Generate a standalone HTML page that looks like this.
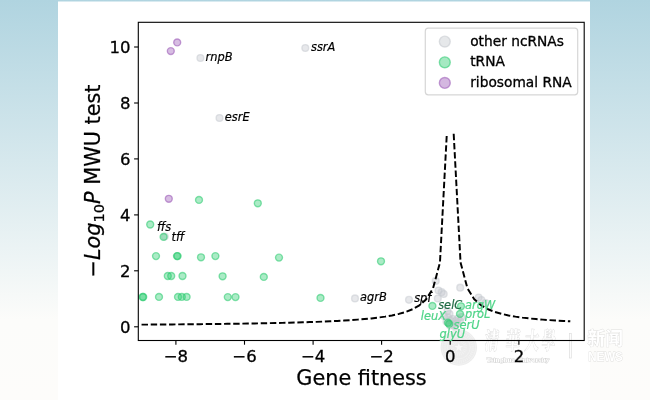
<!DOCTYPE html>
<html lang="en"><head><meta charset="utf-8"><title>Gene fitness volcano plot</title>
<style>
html,body{margin:0;padding:0;background:#fdfcfa;}
body{width:650px;height:400px;overflow:hidden;position:relative;font-family:"DejaVu Sans","Liberation Sans",sans-serif;}
svg text{font-family:"DejaVu Sans","Liberation Sans",sans-serif;}
.tk{font-size:16.5px;fill:#000;stroke:#000;stroke-width:0.3px;}
.lg{font-size:13.75px;fill:#000;stroke:#000;stroke-width:0.3px;}
.ax{font-size:20.8px;fill:#000;stroke:#000;stroke-width:0.25px;}
.gl{font-size:11.4px;font-style:italic;stroke-width:0.2px;}
</style></head><body>
<svg width="650" height="400" viewBox="0 0 650 400" style="position:absolute;left:0;top:0"><defs><linearGradient id="bg" x1="0" y1="0" x2="0" y2="1"><stop offset="0" stop-color="#b0d4e0"/><stop offset="0.8" stop-color="#fcfcfa"/><stop offset="1" stop-color="#fdfcfa"/></linearGradient></defs><rect width="650" height="400" fill="url(#bg)"/><rect x="58" y="1.5" width="532" height="399" fill="#fff"/><g class="wm">
<circle cx="458.8" cy="347.5" r="18.2" fill="#000" fill-opacity="0.075"/>
<circle cx="458.8" cy="347.5" r="16.8" fill="none" stroke="#fff" stroke-opacity="0.4" stroke-width="0.7"/>
<circle cx="458.8" cy="347.5" r="11.4" fill="none" stroke="#fff" stroke-opacity="0.4" stroke-width="0.7"/>
<circle cx="458.8" cy="347.5" r="14.1" fill="none" stroke="#fff" stroke-opacity="0.28" stroke-width="2.8" stroke-dasharray="1.1 1.0"/>
<circle cx="458.8" cy="347.5" r="6.5" fill="none" stroke="#fff" stroke-opacity="0.3" stroke-width="3.5" stroke-dasharray="0.9 0.9"/>
<path d="M458.8 342.9 L459.9 346.1 L463.2 346.1 L460.5 348.1 L461.5 351.3 L458.8 349.3 L456.1 351.3 L457.1 348.1 L454.4 346.1 L457.7 346.1 Z" fill="#fff" fill-opacity="0.7"/>
<text transform="translate(0,348.8) scale(0.6,1) skewX(-8)" x="807.2 842.0 873.7 901.7" y="0" font-size="23.5" font-weight="700" style="font-family:'Liberation Serif','Noto Serif CJK SC',serif" fill="#fff" stroke="#555" stroke-opacity="0.2" stroke-width="1.1" paint-order="stroke">清華大學</text>
<text x="486.5" y="362.4" font-size="6.9" font-weight="700" style="font-family:'Liberation Serif',serif" fill="#fff" stroke="#555" stroke-opacity="0.25" stroke-width="0.8" paint-order="stroke" textLength="63" lengthAdjust="spacingAndGlyphs">Tsinghua University</text>
<rect x="569.5" y="333.6" width="1.8" height="24.4" fill="#fff" stroke="#555" stroke-opacity="0.2" stroke-width="0.7"/>
<text x="587.6" y="345.2" font-size="17.8" font-weight="700" style="font-family:'Liberation Sans','Noto Sans CJK SC',sans-serif" fill="#fff" stroke="#666" stroke-opacity="0.2" stroke-width="0.9" paint-order="stroke" textLength="35.4" lengthAdjust="spacingAndGlyphs">新闻</text>
<text x="588.3" y="360.7" font-size="13.4" font-weight="700" style="font-family:'Liberation Sans',sans-serif" fill="#fff" stroke="#666" stroke-opacity="0.2" stroke-width="0.9" paint-order="stroke" textLength="34.4" lengthAdjust="spacingAndGlyphs">NEWS</text>
</g><g><circle cx="200.4" cy="58.0" r="3.4" fill="#c6c9cf" fill-opacity="0.42" stroke="#c6c9cf" stroke-opacity="0.5" stroke-width="1.39"/><circle cx="305.3" cy="48.0" r="3.4" fill="#c6c9cf" fill-opacity="0.42" stroke="#c6c9cf" stroke-opacity="0.5" stroke-width="1.39"/><circle cx="219.5" cy="118.0" r="3.4" fill="#c6c9cf" fill-opacity="0.42" stroke="#c6c9cf" stroke-opacity="0.5" stroke-width="1.39"/><circle cx="164.8" cy="236.6" r="3.4" fill="#c6c9cf" fill-opacity="0.42" stroke="#c6c9cf" stroke-opacity="0.5" stroke-width="1.39"/><circle cx="355.0" cy="298.4" r="3.4" fill="#c6c9cf" fill-opacity="0.42" stroke="#c6c9cf" stroke-opacity="0.5" stroke-width="1.39"/><circle cx="409.0" cy="299.8" r="3.4" fill="#c6c9cf" fill-opacity="0.42" stroke="#c6c9cf" stroke-opacity="0.5" stroke-width="1.39"/><circle cx="435.7" cy="280.9" r="3.4" fill="#c6c9cf" fill-opacity="0.42" stroke="#c6c9cf" stroke-opacity="0.5" stroke-width="1.39"/><circle cx="438.5" cy="290.5" r="3.4" fill="#c6c9cf" fill-opacity="0.42" stroke="#c6c9cf" stroke-opacity="0.5" stroke-width="1.39"/><circle cx="441.6" cy="292.2" r="3.4" fill="#c6c9cf" fill-opacity="0.42" stroke="#c6c9cf" stroke-opacity="0.5" stroke-width="1.39"/><circle cx="443.7" cy="294.0" r="3.4" fill="#c6c9cf" fill-opacity="0.42" stroke="#c6c9cf" stroke-opacity="0.5" stroke-width="1.39"/><circle cx="437.8" cy="298.5" r="3.4" fill="#c6c9cf" fill-opacity="0.42" stroke="#c6c9cf" stroke-opacity="0.5" stroke-width="1.39"/><circle cx="460.2" cy="287.7" r="3.4" fill="#c6c9cf" fill-opacity="0.42" stroke="#c6c9cf" stroke-opacity="0.5" stroke-width="1.39"/><circle cx="478.6" cy="297.5" r="3.4" fill="#c6c9cf" fill-opacity="0.42" stroke="#c6c9cf" stroke-opacity="0.5" stroke-width="1.39"/><circle cx="481.4" cy="300.0" r="3.4" fill="#c6c9cf" fill-opacity="0.42" stroke="#c6c9cf" stroke-opacity="0.5" stroke-width="1.39"/><circle cx="485.6" cy="303.0" r="3.4" fill="#c6c9cf" fill-opacity="0.42" stroke="#c6c9cf" stroke-opacity="0.5" stroke-width="1.39"/><circle cx="447.5" cy="311.0" r="3.4" fill="#c6c9cf" fill-opacity="0.42" stroke="#c6c9cf" stroke-opacity="0.5" stroke-width="1.39"/><circle cx="449.5" cy="314.0" r="3.4" fill="#c6c9cf" fill-opacity="0.42" stroke="#c6c9cf" stroke-opacity="0.5" stroke-width="1.39"/><circle cx="448.0" cy="317.5" r="3.4" fill="#c6c9cf" fill-opacity="0.42" stroke="#c6c9cf" stroke-opacity="0.5" stroke-width="1.39"/><circle cx="450.5" cy="320.5" r="3.4" fill="#c6c9cf" fill-opacity="0.42" stroke="#c6c9cf" stroke-opacity="0.5" stroke-width="1.39"/><circle cx="446.5" cy="321.5" r="3.4" fill="#c6c9cf" fill-opacity="0.42" stroke="#c6c9cf" stroke-opacity="0.5" stroke-width="1.39"/><circle cx="444.0" cy="316.0" r="3.4" fill="#c6c9cf" fill-opacity="0.42" stroke="#c6c9cf" stroke-opacity="0.5" stroke-width="1.39"/><circle cx="452.5" cy="319.0" r="3.4" fill="#c6c9cf" fill-opacity="0.42" stroke="#c6c9cf" stroke-opacity="0.5" stroke-width="1.39"/><circle cx="455.5" cy="321.0" r="3.4" fill="#c6c9cf" fill-opacity="0.42" stroke="#c6c9cf" stroke-opacity="0.5" stroke-width="1.39"/><circle cx="458.0" cy="318.5" r="3.4" fill="#c6c9cf" fill-opacity="0.42" stroke="#c6c9cf" stroke-opacity="0.5" stroke-width="1.39"/><circle cx="460.0" cy="321.0" r="3.4" fill="#c6c9cf" fill-opacity="0.42" stroke="#c6c9cf" stroke-opacity="0.5" stroke-width="1.39"/><circle cx="457.0" cy="323.5" r="3.4" fill="#c6c9cf" fill-opacity="0.42" stroke="#c6c9cf" stroke-opacity="0.5" stroke-width="1.39"/><circle cx="453.5" cy="324.0" r="3.4" fill="#c6c9cf" fill-opacity="0.42" stroke="#c6c9cf" stroke-opacity="0.5" stroke-width="1.39"/><circle cx="461.5" cy="317.0" r="3.4" fill="#c6c9cf" fill-opacity="0.42" stroke="#c6c9cf" stroke-opacity="0.5" stroke-width="1.39"/><circle cx="450.0" cy="325.5" r="3.4" fill="#c6c9cf" fill-opacity="0.42" stroke="#c6c9cf" stroke-opacity="0.5" stroke-width="1.39"/><circle cx="455.0" cy="326.5" r="3.4" fill="#c6c9cf" fill-opacity="0.42" stroke="#c6c9cf" stroke-opacity="0.5" stroke-width="1.39"/><circle cx="199.0" cy="199.9" r="3.47" fill="#2ecc71" fill-opacity="0.4" stroke="#2ecc71" stroke-opacity="0.58" stroke-width="1.39"/><circle cx="257.8" cy="203.3" r="3.47" fill="#2ecc71" fill-opacity="0.4" stroke="#2ecc71" stroke-opacity="0.58" stroke-width="1.39"/><circle cx="150.2" cy="224.5" r="3.47" fill="#2ecc71" fill-opacity="0.4" stroke="#2ecc71" stroke-opacity="0.58" stroke-width="1.39"/><circle cx="163.6" cy="236.9" r="3.47" fill="#2ecc71" fill-opacity="0.4" stroke="#2ecc71" stroke-opacity="0.58" stroke-width="1.39"/><circle cx="156.0" cy="256.1" r="3.47" fill="#2ecc71" fill-opacity="0.4" stroke="#2ecc71" stroke-opacity="0.58" stroke-width="1.39"/><circle cx="177.0" cy="256.1" r="3.47" fill="#2ecc71" fill-opacity="0.4" stroke="#2ecc71" stroke-opacity="0.58" stroke-width="1.39"/><circle cx="177.6" cy="256.1" r="3.47" fill="#2ecc71" fill-opacity="0.4" stroke="#2ecc71" stroke-opacity="0.58" stroke-width="1.39"/><circle cx="201.0" cy="257.3" r="3.47" fill="#2ecc71" fill-opacity="0.4" stroke="#2ecc71" stroke-opacity="0.58" stroke-width="1.39"/><circle cx="215.4" cy="256.1" r="3.47" fill="#2ecc71" fill-opacity="0.4" stroke="#2ecc71" stroke-opacity="0.58" stroke-width="1.39"/><circle cx="279.0" cy="257.6" r="3.47" fill="#2ecc71" fill-opacity="0.4" stroke="#2ecc71" stroke-opacity="0.58" stroke-width="1.39"/><circle cx="167.8" cy="276.0" r="3.47" fill="#2ecc71" fill-opacity="0.4" stroke="#2ecc71" stroke-opacity="0.58" stroke-width="1.39"/><circle cx="171.2" cy="276.0" r="3.47" fill="#2ecc71" fill-opacity="0.4" stroke="#2ecc71" stroke-opacity="0.58" stroke-width="1.39"/><circle cx="182.5" cy="276.0" r="3.47" fill="#2ecc71" fill-opacity="0.4" stroke="#2ecc71" stroke-opacity="0.58" stroke-width="1.39"/><circle cx="222.6" cy="276.3" r="3.47" fill="#2ecc71" fill-opacity="0.4" stroke="#2ecc71" stroke-opacity="0.58" stroke-width="1.39"/><circle cx="263.8" cy="276.9" r="3.47" fill="#2ecc71" fill-opacity="0.4" stroke="#2ecc71" stroke-opacity="0.58" stroke-width="1.39"/><circle cx="142.7" cy="297.0" r="3.47" fill="#2ecc71" fill-opacity="0.4" stroke="#2ecc71" stroke-opacity="0.58" stroke-width="1.39"/><circle cx="143.2" cy="297.0" r="3.47" fill="#2ecc71" fill-opacity="0.4" stroke="#2ecc71" stroke-opacity="0.58" stroke-width="1.39"/><circle cx="159.0" cy="296.9" r="3.47" fill="#2ecc71" fill-opacity="0.4" stroke="#2ecc71" stroke-opacity="0.58" stroke-width="1.39"/><circle cx="178.0" cy="296.9" r="3.47" fill="#2ecc71" fill-opacity="0.4" stroke="#2ecc71" stroke-opacity="0.58" stroke-width="1.39"/><circle cx="181.8" cy="296.9" r="3.47" fill="#2ecc71" fill-opacity="0.4" stroke="#2ecc71" stroke-opacity="0.58" stroke-width="1.39"/><circle cx="186.6" cy="296.9" r="3.47" fill="#2ecc71" fill-opacity="0.4" stroke="#2ecc71" stroke-opacity="0.58" stroke-width="1.39"/><circle cx="227.8" cy="297.1" r="3.47" fill="#2ecc71" fill-opacity="0.4" stroke="#2ecc71" stroke-opacity="0.58" stroke-width="1.39"/><circle cx="235.5" cy="297.1" r="3.47" fill="#2ecc71" fill-opacity="0.4" stroke="#2ecc71" stroke-opacity="0.58" stroke-width="1.39"/><circle cx="320.5" cy="297.9" r="3.47" fill="#2ecc71" fill-opacity="0.4" stroke="#2ecc71" stroke-opacity="0.58" stroke-width="1.39"/><circle cx="381.0" cy="261.3" r="3.47" fill="#2ecc71" fill-opacity="0.4" stroke="#2ecc71" stroke-opacity="0.58" stroke-width="1.39"/><circle cx="432.4" cy="305.9" r="3.47" fill="#2ecc71" fill-opacity="0.4" stroke="#2ecc71" stroke-opacity="0.58" stroke-width="1.39"/><circle cx="461.0" cy="306.3" r="3.47" fill="#2ecc71" fill-opacity="0.4" stroke="#2ecc71" stroke-opacity="0.58" stroke-width="1.39"/><circle cx="460.0" cy="313.9" r="3.47" fill="#2ecc71" fill-opacity="0.4" stroke="#2ecc71" stroke-opacity="0.58" stroke-width="1.39"/><circle cx="448.0" cy="322.7" r="3.47" fill="#2ecc71" fill-opacity="0.4" stroke="#2ecc71" stroke-opacity="0.58" stroke-width="1.39"/><circle cx="449.2" cy="323.9" r="3.47" fill="#2ecc71" fill-opacity="0.4" stroke="#2ecc71" stroke-opacity="0.58" stroke-width="1.39"/><circle cx="170.8" cy="51.1" r="3.47" fill="#9b59b6" fill-opacity="0.4" stroke="#9b59b6" stroke-opacity="0.58" stroke-width="1.39"/><circle cx="177.2" cy="42.4" r="3.47" fill="#9b59b6" fill-opacity="0.4" stroke="#9b59b6" stroke-opacity="0.58" stroke-width="1.39"/><circle cx="168.8" cy="198.8" r="3.47" fill="#9b59b6" fill-opacity="0.4" stroke="#9b59b6" stroke-opacity="0.58" stroke-width="1.39"/></g><path d="M141.55,324.65 L144.98,324.63 L151.84,324.58 L158.70,324.53 L165.56,324.47 L172.42,324.42 L179.28,324.36 L186.14,324.29 L193.00,324.23 L199.86,324.16 L206.72,324.08 L213.58,324.00 L220.44,323.92 L227.30,323.83 L234.16,323.74 L241.02,323.64 L247.88,323.53 L254.74,323.41 L261.60,323.29 L268.46,323.16 L275.32,323.01 L282.18,322.86 L289.04,322.69 L295.90,322.51 L302.76,322.31 L309.62,322.09 L316.48,321.85 L323.34,321.58 L330.20,321.28 L337.06,320.95 L343.92,320.57 L350.78,320.14 L357.64,319.65 L364.50,319.08 L371.36,318.41 L378.22,317.61 L385.08,316.64 L391.94,315.44 L398.80,313.93 L405.66,311.95 L412.52,309.25 L419.38,305.35 L426.24,299.22 L433.10,288.19 L439.96,262.45 L446.82,133.74" fill="none" stroke="#000" stroke-width="1.95" stroke-dasharray="6.43 2.737" stroke-linejoin="round"/><path d="M453.68,133.74 L460.54,262.45 L467.40,288.19 L474.26,299.22 L481.12,305.35 L487.98,309.25 L494.84,311.95 L501.70,313.93 L508.56,315.44 L515.42,316.64 L522.28,317.61 L529.14,318.41 L536.00,319.08 L542.86,319.65 L549.72,320.14 L556.58,320.57 L563.44,320.95 L570.30,321.28" fill="none" stroke="#000" stroke-width="1.95" stroke-dasharray="6.45 2.75" stroke-linejoin="round"/><rect x="138.3" y="22.3" width="445.90000000000003" height="318.2" fill="none" stroke="#000" stroke-width="1.1"/><line x1="175.9" y1="340.5" x2="175.9" y2="344.7" stroke="#000" stroke-width="1.1"/><text x="175.9" y="361.5" text-anchor="middle" class="tk">−8</text><line x1="244.5" y1="340.5" x2="244.5" y2="344.7" stroke="#000" stroke-width="1.1"/><text x="244.5" y="361.5" text-anchor="middle" class="tk">−6</text><line x1="313.1" y1="340.5" x2="313.1" y2="344.7" stroke="#000" stroke-width="1.1"/><text x="313.1" y="361.5" text-anchor="middle" class="tk">−4</text><line x1="381.6" y1="340.5" x2="381.6" y2="344.7" stroke="#000" stroke-width="1.1"/><text x="381.6" y="361.5" text-anchor="middle" class="tk">−2</text><line x1="450.2" y1="340.5" x2="450.2" y2="344.7" stroke="#000" stroke-width="1.1"/><text x="450.2" y="361.5" text-anchor="middle" class="tk">0</text><line x1="518.9" y1="340.5" x2="518.9" y2="344.7" stroke="#000" stroke-width="1.1"/><text x="518.9" y="361.5" text-anchor="middle" class="tk">2</text><line x1="134.10000000000002" y1="326.8" x2="138.3" y2="326.8" stroke="#000" stroke-width="1.1"/><text x="130.60000000000002" y="333.0" text-anchor="end" class="tk">0</text><line x1="134.10000000000002" y1="270.8" x2="138.3" y2="270.8" stroke="#000" stroke-width="1.1"/><text x="130.60000000000002" y="277.0" text-anchor="end" class="tk">2</text><line x1="134.10000000000002" y1="214.9" x2="138.3" y2="214.9" stroke="#000" stroke-width="1.1"/><text x="130.60000000000002" y="221.1" text-anchor="end" class="tk">4</text><line x1="134.10000000000002" y1="158.9" x2="138.3" y2="158.9" stroke="#000" stroke-width="1.1"/><text x="130.60000000000002" y="165.1" text-anchor="end" class="tk">6</text><line x1="134.10000000000002" y1="103.0" x2="138.3" y2="103.0" stroke="#000" stroke-width="1.1"/><text x="130.60000000000002" y="109.2" text-anchor="end" class="tk">8</text><line x1="134.10000000000002" y1="47.0" x2="138.3" y2="47.0" stroke="#000" stroke-width="1.1"/><text x="130.60000000000002" y="53.2" text-anchor="end" class="tk">10</text><text x="361.5" y="385.4" text-anchor="middle" class="ax">Gene fitness</text><text transform="translate(99.8,181) rotate(-90)" text-anchor="middle" class="ax">−<tspan font-style="italic">Log</tspan><tspan font-size="14.6" dy="4.5">10</tspan><tspan font-style="italic" dy="-4.5">P</tspan> MWU test</text><text x="205.5" y="61.3" class="gl" fill="#000" stroke="#000">rnpB</text><text x="311" y="50.8" class="gl" fill="#000" stroke="#000">ssrA</text><text x="224.8" y="121.3" class="gl" fill="#000" stroke="#000">esrE</text><text x="157" y="231" class="gl" fill="#000" stroke="#000">ffs</text><text x="171.5" y="241" class="gl" fill="#000" stroke="#000">tff</text><text x="360" y="300.8" class="gl" fill="#000" stroke="#000">agrB</text><text x="414.2" y="301.7" class="gl" fill="#000" stroke="#000">spf</text><text x="438.2" y="309" class="gl" fill="#1f6a43" stroke="#1f6a43">selC</text><text x="465" y="309" class="gl" fill="#4fd488" stroke="#4fd488">argW</text><text x="420.8" y="319.8" class="gl" fill="#4fd488" stroke="#4fd488">leuX</text><text x="465" y="318.2" class="gl" fill="#4fd488" stroke="#4fd488">proL</text><text x="453.5" y="328.5" class="gl" fill="#4fd488" stroke="#4fd488">serU</text><text x="439.5" y="337.7" class="gl" fill="#4fd488" stroke="#4fd488">glyU</text><rect x="425.3" y="28.2" width="152.4" height="66.6" rx="3" ry="3" fill="#fff" fill-opacity="0.8" stroke="#ccc" stroke-opacity="0.8" stroke-width="1.2"/><circle cx="444.8" cy="41.6" r="5.45" fill="#c6c9cf" fill-opacity="0.43" stroke="#c6c9cf" stroke-opacity="0.58" stroke-width="1.39"/><text x="470.2" y="45.7" class="lg">other ncRNAs</text><circle cx="444.8" cy="62.3" r="5.45" fill="#2ecc71" fill-opacity="0.43" stroke="#2ecc71" stroke-opacity="0.58" stroke-width="1.39"/><text x="470.2" y="66.2" class="lg">tRNA</text><circle cx="444.8" cy="82.9" r="5.45" fill="#9b59b6" fill-opacity="0.43" stroke="#9b59b6" stroke-opacity="0.58" stroke-width="1.39"/><text x="470.2" y="86.8" class="lg">ribosomal RNA</text></svg>
</body></html>
